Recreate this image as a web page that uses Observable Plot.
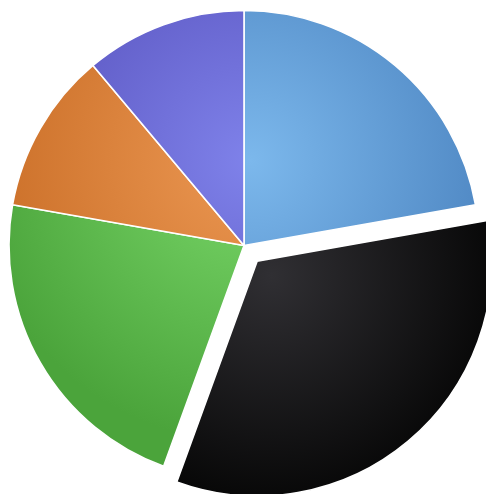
<!DOCTYPE html>
<html><head><meta charset="utf-8">
<script src="https://cdn.jsdelivr.net/npm/d3@7"></script>
<script src="https://cdn.jsdelivr.net/npm/@observablehq/plot@0.6"></script>
<style>html,body{margin:0;padding:0;background:#fff;overflow:hidden}</style>
</head><body><div id="chart"></div>
<script>
// Data: 5 slices, clockwise from 12 o'clock
const categories = ["Blue", "Black", "Green", "Orange", "Purple"];
const values = [2, 3, 2, 1, 1];
const lightColors = ["#7cb8ec", "#302f33", "#7ad86a", "#ec9853", "#7f82ea"];
const darkColors  = ["#4880bd", "#060606", "#4ba43b", "#c96d26", "#5650bb"];
const explodedCategories = ["Black"];

const table = categories.map((c, i) => ({category: c, value: values[i]}));
const arcs = d3.pie().sort(null).value(d => d.value)(table);
const darkOf = new Map(categories.map((c, i) => [c, darkColors[i]]));

const W = 486, H = 494;
const explodeOffset = 0.087; // in radius units

function pieMark(index, scales, vals, dimensions) {
  const {x, y, color} = scales;
  const cx = x(0), cy = y(0);
  const R = x(1) - x(0);
  const svg = d3.create("svg:g");
  const defs = svg.append("defs");
  const arcGen = d3.arc().innerRadius(0).outerRadius(R);
  arcs.forEach((a, i) => {
    const cat = a.data.category;
    const mid = (a.startAngle + a.endAngle) / 2;
    const ex = explodedCategories.includes(cat);
    const dx = ex ? Math.sin(mid) * explodeOffset * R : 0;
    const dy = ex ? -Math.cos(mid) * explodeOffset * R : 0;
    const id = "grad" + i;
    // gradient coordinates are in the slice's local (translated) space
    const g = defs.append("radialGradient")
      .attr("id", id)
      .attr("gradientUnits", "userSpaceOnUse")
      .attr("cx", ex ? 0.06 * R : 0.03 * R)
      .attr("cy", ex ? 0.06 * R : -0.36 * R)
      .attr("r", ex ? 1.0 * R : 1.2 * R);
    g.append("stop").attr("offset", "0%").attr("stop-color", color(cat));
    g.append("stop").attr("offset", "100%").attr("stop-color", darkOf.get(cat));
    svg.append("path")
      .attr("transform", `translate(${cx + dx},${cy + dy})`)
      .attr("d", arcGen(a))
      .attr("fill", `url(#${id})`)
      .attr("stroke", "#fff")
      .attr("stroke-width", 1.6)
      .attr("stroke-linejoin", "round");
  });
  return svg.node();
}

const chart = Plot.plot({
  width: W,
  height: H,
  marginLeft: 9,
  marginRight: 7,
  marginTop: 10.5,
  marginBottom: 13.5,
  x: {domain: [-1, 1], axis: null},
  y: {domain: [-1, 1], axis: null},
  color: {domain: categories, range: lightColors},
  style: {background: "#fff"},
  marks: [
    Plot.dot(arcs, {
      x: a => Math.sin((a.startAngle + a.endAngle) / 2) * 0.5,
      y: a => Math.cos((a.startAngle + a.endAngle) / 2) * 0.5,
      fill: a => a.data.category,
      r: 0,
      fillOpacity: 0
    }),
    pieMark
  ]
});
document.getElementById("chart").appendChild(chart);
</script>
</body></html>
